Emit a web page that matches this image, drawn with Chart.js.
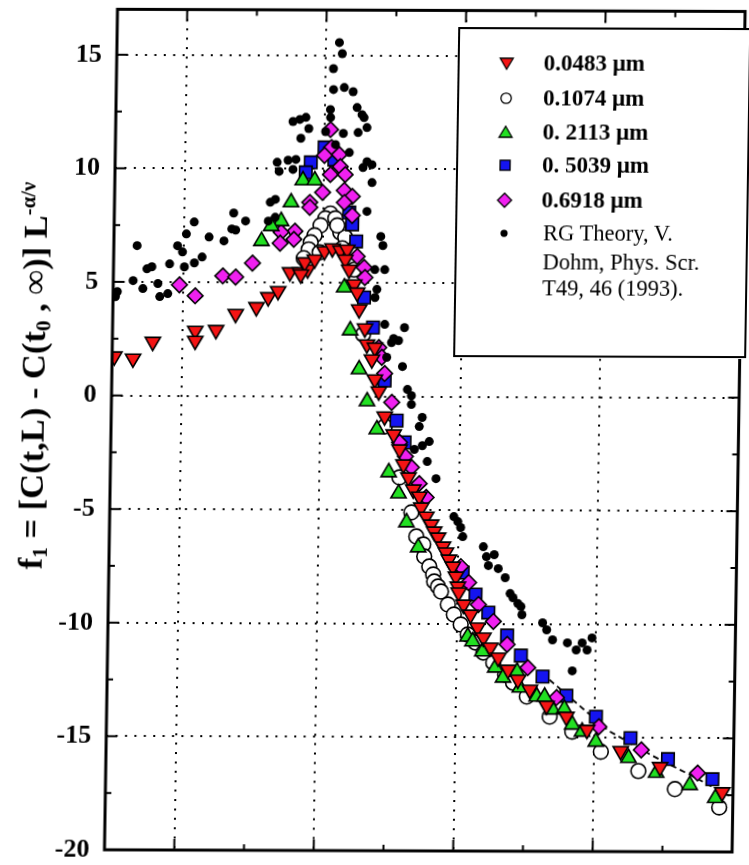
<!DOCTYPE html>
<html>
<head>
<meta charset="utf-8">
<script src="https://cdn.jsdelivr.net/npm/chart.js@4/dist/chart.umd.min.js"></script>
<style>
html,body{margin:0;padding:0;background:#fff;overflow:hidden;width:749px;height:865px;}
#wrap{position:relative;width:749px;height:865px;transform-origin:428px 430px;transform:matrix(1,0.0035,-0.0155,1,0,0);}
#chart{position:absolute;left:0;top:0;}
#ytitle{position:absolute;left:32px;top:377px;transform:translate(-50%,-50%) rotate(-90deg);white-space:nowrap;font-family:'Liberation Serif',serif;font-weight:bold;font-size:34.5px;line-height:1;color:#000;}
#ytitle sub{font-size:0.62em;vertical-align:-0.25em;line-height:0;}
#ytitle sup{font-size:0.6em;vertical-align:0.6em;line-height:0;}
#legend{position:absolute;left:452px;top:27px;width:289px;height:326px;border:2px solid #000;background:#fff;font-family:'Liberation Serif',serif;color:#000;}
.row{position:absolute;left:0;width:289px;height:26px;}
.row svg{position:absolute;left:37px;top:3px;}
.row span{position:absolute;left:84px;top:0;line-height:26px;font-size:23px;font-weight:bold;white-space:nowrap;}
.row span.reg{font-weight:normal;font-size:22.5px;left:86px;}
</style>
</head>
<body>
<div id="wrap">
  <canvas id="chart" width="749" height="865"></canvas>
  <div id="ytitle">f<sub>1</sub> = [C(t,L) - C(t<sub>0</sub> , ∞)] L<sup>-α/ν</sup></div>
  <div id="legend"></div>
</div>
<script>
// ---- axis ticks ----
const yTickValues = [-20, -15, -10, -5, 0, 5, 10, 15];
const yTickLabels = ['-20', '-15', '-10', '-5', '0', '5', '10', '15'];
const yMinorTicks = [-17.5, -12.5, -7.5, -2.5, 2.5, 7.5, 12.5];
const xGridValues = [1, 2, 3, 4];
const xMinorTicks = [1.5, 2.5, 3.5, 4.5];

// ---- series (x in grid units, y = f1) ----
const s0483 = [[0.516,1.72],[0.650,1.63],[0.790,2.37],[1.093,2.86],[1.094,2.42],[1.242,2.90],[1.381,3.61],[1.529,3.91],[1.613,4.35],[1.683,4.62],[1.766,5.45],[1.837,5.45],[1.893,5.58],[1.871,5.89],[1.942,6.02],[2.011,6.38],[2.068,6.51],[2.125,6.42],[2.174,6.46],[2.228,4.93],[2.250,4.57],[1.844,5.36],[2.161,6.02],[2.190,5.58],[2.266,3.83],[2.310,2.99],[2.326,2.29],[2.383,2.15],[2.363,1.63],[2.386,0.75],[2.416,0.22],[2.461,-0.88],[2.527,-1.67],[2.571,-2.33],[2.601,-2.99],[2.638,-3.56],[2.674,-4.09],[2.718,-4.40],[2.733,-4.88],[2.770,-5.28],[2.806,-5.63],[2.828,-5.94],[2.857,-6.20],[2.893,-6.60],[2.915,-6.86],[2.937,-7.17],[2.966,-7.48],[2.989,-7.92],[3.004,-8.36],[3.011,-8.62],[3.048,-9.15],[3.099,-9.59],[3.150,-10.16],[3.193,-10.60],[3.244,-11.04],[3.302,-11.48],[3.374,-12.01],[3.446,-12.45],[3.532,-12.89],[3.654,-13.59],[3.797,-14.07],[3.947,-14.64],[4.190,-15.57],[4.474,-16.27],[4.923,-17.37]];

const s1074 = [[2.049,8.04],[2.014,7.83],[1.980,7.52],[1.938,7.08],[1.911,6.77],[1.897,6.46],[1.863,6.07],[2.085,7.83],[2.122,7.22],[2.158,7.00],[2.138,6.51],[1.976,6.33],[2.100,7.52],[2.226,5.58],[2.297,2.73],[2.463,-1.32],[2.574,-3.56],[2.663,-5.10],[2.701,-6.16],[2.752,-6.51],[2.760,-7.04],[2.797,-7.48],[2.826,-7.83],[2.834,-8.14],[2.862,-8.36],[2.884,-8.58],[2.935,-9.15],[2.979,-9.59],[3.029,-10.03],[3.080,-10.47],[3.137,-10.82],[3.195,-11.26],[3.267,-11.70],[3.353,-12.23],[3.411,-12.58],[3.511,-13.19],[3.677,-14.07],[3.841,-14.73],[4.048,-15.61],[4.319,-16.45],[4.583,-17.24],[4.903,-18.04]];

const s2113 = [[1.848,9.50],[1.933,9.50],[1.766,8.53],[1.697,7.70],[1.627,7.48],[1.558,6.82],[2.157,4.79],[2.204,2.90],[2.272,1.19],[2.333,-0.22],[2.406,-1.45],[2.496,-3.34],[2.569,-4.27],[2.629,-5.54],[2.716,-6.64],[3.080,-10.56],[3.116,-10.77],[3.188,-11.21],[3.282,-11.92],[3.339,-12.36],[3.438,-12.10],[3.461,-12.80],[3.582,-13.19],[3.638,-13.19],[3.697,-13.76],[3.781,-13.72],[3.840,-14.42],[3.911,-14.73],[4.011,-15.17],[4.247,-15.88],[4.447,-16.53],[4.689,-17.06],[4.874,-17.63]];

const s5039 = [[2.000,10.95],[1.903,10.29],[1.868,9.85],[2.072,10.42],[2.184,8.09],[2.207,7.57],[2.237,6.82],[2.300,4.35],[2.367,3.03],[2.457,0.70],[2.547,-1.06],[2.606,-2.02],[3.037,-7.74],[3.132,-8.71],[3.226,-9.50],[3.363,-10.51],[3.464,-11.39],[3.622,-12.31],[3.794,-13.15],[4.009,-14.07],[4.259,-15.00],[4.530,-15.92],[4.851,-16.80]];

const s6918 = [[2.041,11.74],[2.050,10.95],[2.001,10.60],[2.107,10.64],[2.045,9.76],[2.115,10.11],[2.151,9.76],[2.146,9.06],[2.204,8.80],[2.148,8.53],[2.206,7.96],[1.991,8.97],[1.900,8.53],[1.901,8.31],[1.797,7.26],[1.790,6.90],[1.698,7.21],[1.692,6.73],[1.496,5.85],[1.285,5.28],[1.377,5.23],[0.975,4.88],[1.089,4.40],[2.246,6.16],[2.297,5.67],[2.304,5.23],[2.411,2.15],[2.434,1.72],[2.456,1.01],[2.510,-0.26],[2.570,-2.02],[2.614,-2.64],[2.658,-3.12],[2.716,-3.83],[2.767,-4.44],[3.023,-7.48],[3.081,-8.18],[3.154,-9.15],[3.263,-9.89],[3.364,-10.90],[3.515,-11.92],[3.724,-13.23],[4.031,-14.51],[4.338,-15.52],[4.744,-16.53]];

const rgTheory = [[2.095,15.57],[2.117,15.08],[2.055,14.42],[2.058,13.50],[2.135,13.59],[2.199,13.41],[2.229,12.71],[2.265,12.40],[2.280,12.27],[2.038,12.62],[2.040,12.27],[1.771,12.09],[1.820,12.18],[1.863,12.27],[1.885,11.78],[1.829,11.35],[2.006,11.65],[2.133,11.57],[2.239,11.61],[2.302,11.83],[2.178,10.73],[2.078,11.08],[1.662,10.29],[1.677,9.89],[1.740,10.38],[1.776,9.98],[1.796,10.42],[2.306,10.33],[2.278,10.07],[2.344,9.41],[2.342,10.20],[1.617,8.53],[1.653,8.66],[1.605,7.70],[1.654,7.87],[1.356,8.05],[1.442,7.70],[1.372,7.30],[1.344,7.35],[2.311,8.14],[2.413,7.04],[2.429,6.64],[1.289,6.82],[1.182,6.99],[1.074,7.65],[1.019,7.12],[0.957,6.60],[0.993,6.33],[1.134,6.11],[1.079,5.85],[1.008,5.67],[0.902,5.80],[0.775,5.67],[0.740,5.58],[0.667,6.60],[0.642,5.06],[0.713,4.71],[0.820,4.93],[0.835,4.36],[0.892,4.49],[0.530,4.57],[0.517,4.35],[2.374,5.58],[2.445,5.58],[2.391,4.71],[2.378,4.35],[2.451,3.17],[2.593,3.03],[2.516,2.55],[2.552,2.46],[2.502,2.37],[2.469,1.72],[2.583,1.32],[2.621,0.31],[2.650,0.04],[2.651,-0.35],[2.730,-0.92],[2.710,-1.32],[2.783,-1.98],[2.734,-2.16],[2.677,-2.33],[2.771,-2.86],[2.836,-3.61],[2.968,-5.28],[2.997,-5.50],[3.018,-5.76],[3.034,-6.16],[3.183,-6.60],[3.206,-7.04],[3.262,-6.95],[3.221,-7.43],[3.292,-7.56],[3.343,-7.96],[3.380,-8.66],[3.401,-8.84],[3.437,-9.10],[3.459,-9.23],[3.467,-9.59],[3.616,-9.94],[3.646,-10.25],[3.689,-10.69],[3.796,-10.82],[3.860,-11.13],[3.902,-10.82],[3.938,-11.13],[3.972,-10.60],[3.834,-12.05]];

const dashedCurve = [[3.672,-12.45],[4.103,-14.69],[4.423,-15.79],[4.709,-16.67],[4.980,-17.55]];

const legendLabels = ['0.0483 \u03bcm', '0.1074 \u03bcm', '0. 2113 \u03bcm', '0. 5039 \u03bcm', '0.6918 \u03bcm'];
const rgLabelLines = ['RG Theory, V.', 'Dohm, Phys. Scr.', 'T49, 46 (1993).'];

// ---- colours / styles ----
const RED = '#f41414', GREEN = '#22e022', BLUE = '#1414f0', MAGENTA = '#f020f0';

const pts = a => a.map(([x, y]) => ({x, y}));

const framePlugin = {
  id: 'frame',
  afterDraw(chart) {
    const {ctx, chartArea: a, scales} = chart;
    const xs = scales.x, ys = scales.y;
    ctx.save();
    ctx.strokeStyle = '#000';
    ctx.lineWidth = 2;
    const seg = (x1, y1, x2, y2) => { ctx.beginPath(); ctx.moveTo(x1, y1); ctx.lineTo(x2, y2); ctx.stroke(); };
    yTickValues.forEach(v => { const p = ys.getPixelForValue(v); seg(a.left, p, a.left + 11, p); seg(a.right, p, a.right - 11, p); });
    yMinorTicks.forEach(v => { const p = ys.getPixelForValue(v); seg(a.left, p, a.left + 6, p); seg(a.right, p, a.right - 6, p); });
    xGridValues.forEach(v => { const p = xs.getPixelForValue(v); seg(p, a.top, p, a.top + 12); seg(p, a.bottom, p, a.bottom - 11); });
    xMinorTicks.forEach(v => { const p = xs.getPixelForValue(v); seg(p, a.top, p, a.top + 6); seg(p, a.bottom, p, a.bottom - 6); });
    ctx.lineWidth = 3;
    ctx.strokeRect(a.left, a.top, a.right - a.left, a.bottom - a.top);
    ctx.restore();
  }
};

new Chart(document.getElementById('chart'), {
  type: 'scatter',
  data: {
    datasets: [
      {label: 'RG Theory, V. Dohm, Phys. Scr. T49, 46 (1993).', data: pts(rgTheory), pointStyle: 'circle', pointRadius: 4.5, backgroundColor: '#000', borderColor: '#000', borderWidth: 0, order: 0},
      {label: legendLabels[0], data: pts(s0483), pointStyle: 'triangle', rotation: 180, pointRadius: 8.8, backgroundColor: RED, borderColor: '#000', borderWidth: 1.6, order: 1},
      {label: legendLabels[2], data: pts(s2113), pointStyle: 'triangle', pointRadius: 8.8, backgroundColor: GREEN, borderColor: '#000', borderWidth: 1.6, order: 2},
      {label: legendLabels[4], data: pts(s6918), pointStyle: 'rectRot', pointRadius: 7.8, backgroundColor: MAGENTA, borderColor: '#000', borderWidth: 1.6, order: 3},
      {label: legendLabels[3], data: pts(s5039), pointStyle: 'rect', pointRadius: 8.8, backgroundColor: BLUE, borderColor: '#000', borderWidth: 1.6, order: 4},
      {label: legendLabels[1], data: pts(s1074), pointStyle: 'circle', pointRadius: 7.4, backgroundColor: '#fff', borderColor: '#000', borderWidth: 1.6, order: 5},
      {label: 'fit', data: pts(dashedCurve), showLine: true, pointRadius: 0, borderColor: '#000', borderWidth: 1.8, borderDash: [6, 4], fill: false, order: 6}
    ]
  },
  options: {
    responsive: false,
    animation: false,
    devicePixelRatio: 1,
    layout: {padding: {left: 0, top: 10, right: 4, bottom: 14}},
    plugins: {legend: {display: false}, tooltip: {enabled: false}},
    scales: {
      x: {
        type: 'linear', min: 0.5, max: 5,
        afterBuildTicks: s => { s.ticks = xGridValues.map(v => ({value: v})); },
        afterFit: s => { s.height = 0; s.paddingLeft = 0; s.paddingRight = 0; },
        ticks: {display: false},
        border: {display: false, dash: [2, 7.4]},
        grid: {color: '#000', lineWidth: 2, drawTicks: false}
      },
      y: {
        type: 'linear', min: -20, max: 17,
        afterBuildTicks: s => { s.ticks = yTickValues.map(v => ({value: v})); },
        afterFit: s => { s.width = 111; s.paddingTop = 0; s.paddingBottom = 0; },
        ticks: {
          padding: 15, color: '#000',
          font: {family: "'Liberation Serif', serif", weight: 'bold', size: 26},
          callback: (v) => { const i = yTickValues.indexOf(v); return i >= 0 ? yTickLabels[i] : ''; }
        },
        border: {display: false, dash: [2, 7.4]},
        grid: {color: '#000', lineWidth: 2, drawTicks: false}
      }
    }
  },
  plugins: [framePlugin]
});

// ---- HTML legend ----
const markers = [
  `<polygon points="3.5,5 16.5,5 10,16" fill="${RED}" stroke="#000" stroke-width="1.3"/>`,
  `<circle cx="10" cy="10" r="5.2" fill="#fff" stroke="#000" stroke-width="1.3"/>`,
  `<polygon points="10,4 16.5,15 3.5,15" fill="${GREEN}" stroke="#000" stroke-width="1.3"/>`,
  `<rect x="5" y="5" width="10" height="10" fill="${BLUE}" stroke="#000" stroke-width="1.3"/>`,
  `<polygon points="10,3 17,10 10,17 3,10" fill="${MAGENTA}" stroke="#000" stroke-width="1.3"/>`,
  `<circle cx="10" cy="10" r="3.6" fill="#000"/>`
];
const rowCenters = [34, 69, 103, 136, 171];
const rgCenters = [204, 233, 259];
const leg = document.getElementById('legend');
let html = '';
legendLabels.forEach((t, i) => {
  html += `<div class="row" style="top:${rowCenters[i] - 13}px"><svg width="20" height="20" viewBox="0 0 20 20">${markers[i]}</svg><span>${t}</span></div>`;
});
rgLabelLines.forEach((t, i) => {
  html += `<div class="row" style="top:${rgCenters[i] - 13}px">${i === 0 ? `<svg width="20" height="20" viewBox="0 0 20 20">${markers[5]}</svg>` : ''}<span class="reg">${t}</span></div>`;
});
leg.innerHTML = html;
</script>
</body>
</html>
